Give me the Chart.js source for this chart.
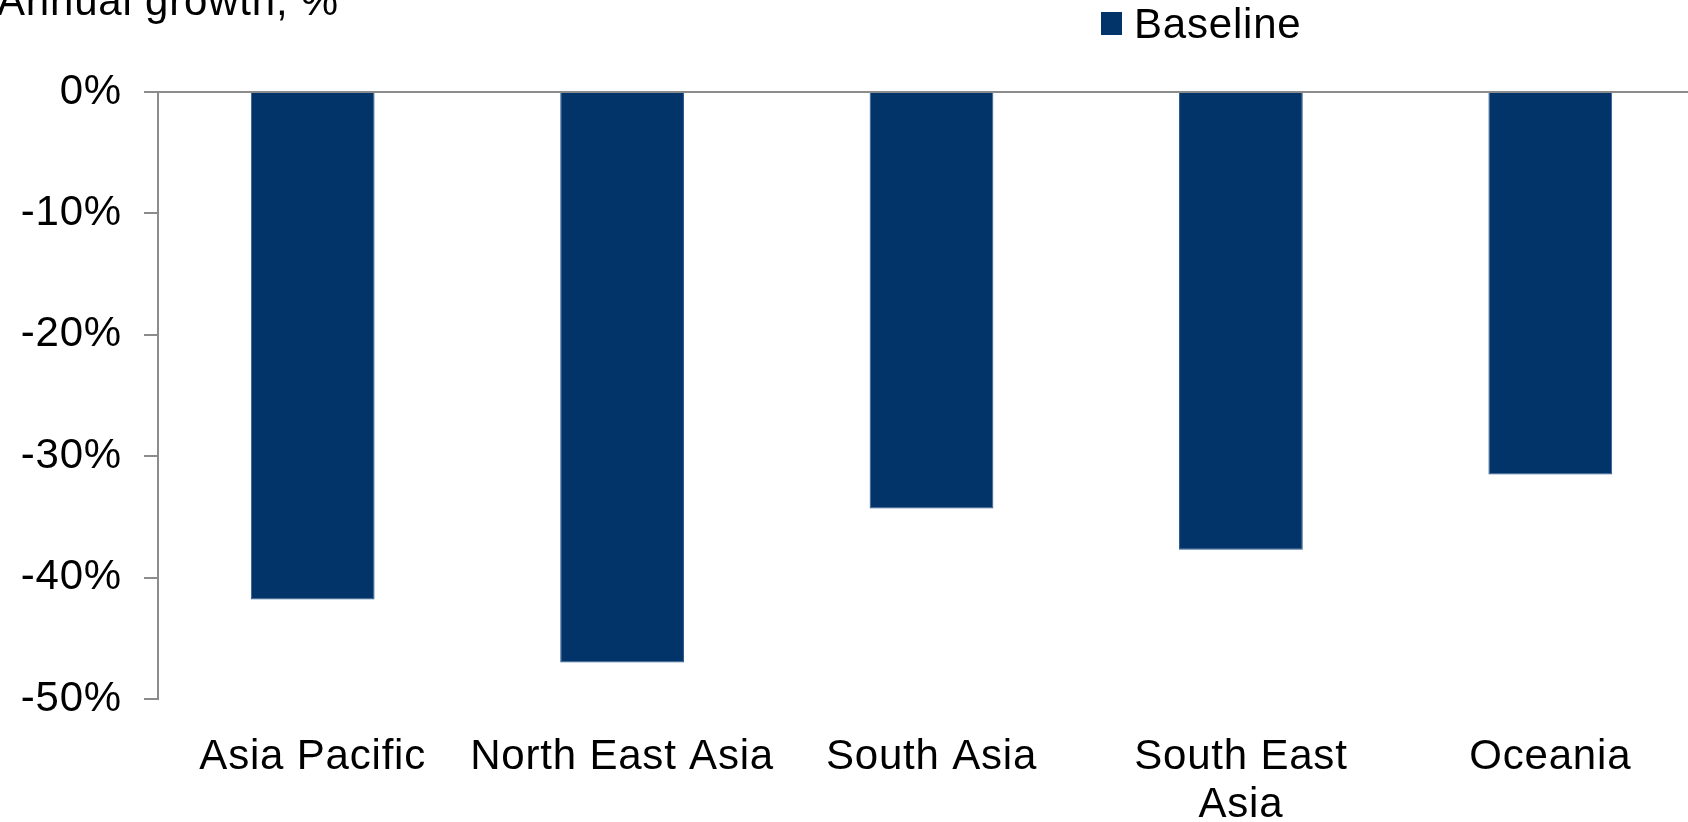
<!DOCTYPE html>
<html>
<head>
<meta charset="utf-8">
<script src="https://cdn.jsdelivr.net/npm/chart.js@4/dist/chart.umd.min.js"></script>
<style>
  html, body { margin: 0; padding: 0; background: #fff; overflow: hidden; }
  #wrap { width: 1688px; height: 822px; overflow: hidden; }
</style>
</head>
<body>
<div id="wrap"><canvas id="chart" width="1705" height="822"></canvas></div>
<script>
const regions = ['Asia Pacific', 'North East Asia', 'South Asia', ['South East', 'Asia'], 'Oceania'];
const baseline = [-41.8, -47.0, -34.3, -37.7, -31.5];
const yTicks = [0, -10, -20, -30, -40, -50];
const axisTitle = 'Annual growth, %';

const FONT = '"Liberation Sans", Arial, sans-serif';
const barColor = '#02346A';
const SPACING = '0.8px';

// slightly wider letter spacing like the original export
const spacing = {
  id: 'spacing',
  beforeLayout(chart) { chart.ctx.letterSpacing = SPACING; },
  beforeDraw(chart) { chart.ctx.letterSpacing = SPACING; }
};

// title (partly cut off at the top) and legend drawn by hand
const extras = {
  id: 'extras',
  afterDraw(chart) {
    const ctx = chart.ctx;
    ctx.save();
    ctx.letterSpacing = SPACING;
    ctx.fillStyle = '#000';
    ctx.font = '42px ' + FONT;
    ctx.textAlign = 'left';
    ctx.textBaseline = 'alphabetic';
    ctx.fillText(axisTitle, -3, 15);

    const ds = chart.data.datasets[0];
    ctx.fillStyle = ds.backgroundColor;
    ctx.fillRect(1101, 12, 21, 23);
    ctx.fillStyle = '#000';
    ctx.fillText(ds.label, 1134, 38);
    ctx.restore();
  }
};

new Chart(document.getElementById('chart'), {
  type: 'bar',
  data: {
    labels: regions,
    datasets: [{
      label: 'Baseline',
      data: baseline,
      backgroundColor: barColor,
      borderColor: '#2a5a8e',
      borderWidth: 1,
      barPercentage: 0.4,
      categoryPercentage: 1
    }]
  },
  options: {
    responsive: false,
    animation: false,
    layout: { padding: { top: 92, right: 0, left: 0, bottom: 0 } },
    plugins: {
      legend: { display: false },
      title: { display: false },
      tooltip: { enabled: false }
    },
    scales: {
      x: {
        grid: { display: false, drawTicks: false },
        border: { display: false },
        ticks: {
          color: '#000',
          padding: 34,
          maxRotation: 0,
          autoSkip: false,
          font: { family: FONT, size: 42, lineHeight: 1.15 }
        },
        afterFit(s) { s.height = 123; }
      },
      y: {
        min: -50,
        max: 0,
        afterBuildTicks(s) { s.ticks = yTicks.map(v => ({ value: v })); },
        grid: {
          color: c => (c.tick && c.tick.value === 0 ? '#8c8c8c' : 'rgba(0,0,0,0)'),
          tickColor: '#8c8c8c',
          tickLength: 14,
          lineWidth: 2
        },
        border: { display: true, color: '#8c8c8c', width: 2 },
        ticks: {
          color: '#000',
          padding: 22,
          font: { family: FONT, size: 42 },
          callback: v => v + '%'
        },
        afterFit(s) { s.width = 158; }
      }
    }
  },
  plugins: [spacing, extras]
});
</script>
</body>
</html>
